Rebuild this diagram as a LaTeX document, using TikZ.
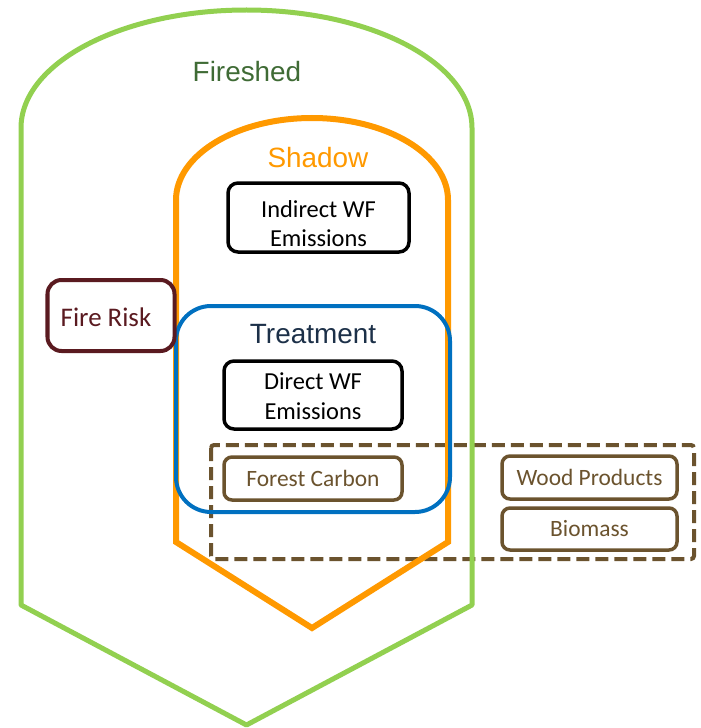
\documentclass[tikz,border=0pt]{standalone}
\usepackage{fontspec}
\setmainfont{Carlito}
\newfontfamily\arialf{Liberation Sans}
\definecolor{fgreen}{HTML}{92D050}
\definecolor{fgtext}{HTML}{3F6B35}
\definecolor{sorange}{HTML}{FF9900}
\definecolor{tblue}{HTML}{0070C0}
\definecolor{tnavy}{HTML}{1C3048}
\definecolor{maroon}{HTML}{5A1A20}
\definecolor{brownc}{HTML}{6B532E}
\tikzset{
  blackbox/.style={draw=black, line width=3.5bp, rounded corners=10bp, fill=white, inner sep=0pt},
  blacktext/.style={align=center, inner sep=0pt, font=\fontsize{24.5}{29.5}\selectfont, text=black},
  brownbox/.style={draw=brownc, line width=3.5bp, rounded corners=8bp, fill=white, align=center, inner sep=0pt,
    font=\fontsize{23.5}{26}\selectfont, text=brownc},
  title/.style={font=\arialf\fontsize{28}{30}\selectfont, inner sep=0pt}
}
\begin{document}
\begin{tikzpicture}[x=1bp,y=-1bp]
\useasboundingbox (0,0) rectangle (701,728);
% dashed group
\draw[brownc, line width=4bp, dash pattern=on 13bp off 6bp, rounded corners=3bp] (211,445) rectangle (694,559);
% Fireshed
\draw[fgreen, line width=5bp, line join=round] (21,605) -- (21,128) arc[start angle=180, end angle=360, x radius=225.5, y radius=118] -- (472,605) -- (246.5,725) -- cycle;
% Shadow
\draw[sorange, line width=6bp, line join=miter] (176,542) -- (176,200) arc[start angle=180, end angle=360, x radius=136, y radius=82] -- (448,542) -- (312,628) -- cycle;
% Treatment
\draw[tblue, line width=4bp, rounded corners=35bp] (176,306) rectangle (450,512);
% titles
\node[title, text=fgtext] (fireshed) at (247,72) {Fireshed};
\node[title, text=sorange] (shadow) at (318,158) {Shadow};
\node[title, text=tnavy] (treatment) at (313,334) {Treatment};
% boxes
\node[blackbox, minimum width=181bp, minimum height=69bp] (indirect) at (318.5,217.5) {};
\node[blacktext] (indirecttext) at ([yshift=-6bp]indirect.center) {Indirect WF\\Emissions};
\node[blackbox, minimum width=178bp, minimum height=68bp] (direct) at (313,395) {};
\node[blacktext] (directtext) at ([yshift=-1bp]direct.center) {Direct WF\\Emissions};
\node[draw=maroon, line width=4bp, rounded corners=14bp, fill=white, inner sep=0pt, minimum width=127bp, minimum height=71bp] (firerisk) at (111,315.5) {};
\node[inner sep=0pt, font=\fontsize{27}{30}\selectfont, text=maroon] (firerisktext) at ([xshift=-5bp,yshift=-2bp]firerisk.center) {Fire Risk};
\node[brownbox, minimum width=178bp, minimum height=43bp] (forest) at (313,478.5) {Forest Carbon};
\node[brownbox, minimum width=175bp, minimum height=43bp] (wood) at (589.5,477.5) {Wood Products};
\node[brownbox, minimum width=175bp, minimum height=42bp] (biomass) at (589.5,529) {\raisebox{-2bp}{Biomass}};
\end{tikzpicture}
\end{document}
